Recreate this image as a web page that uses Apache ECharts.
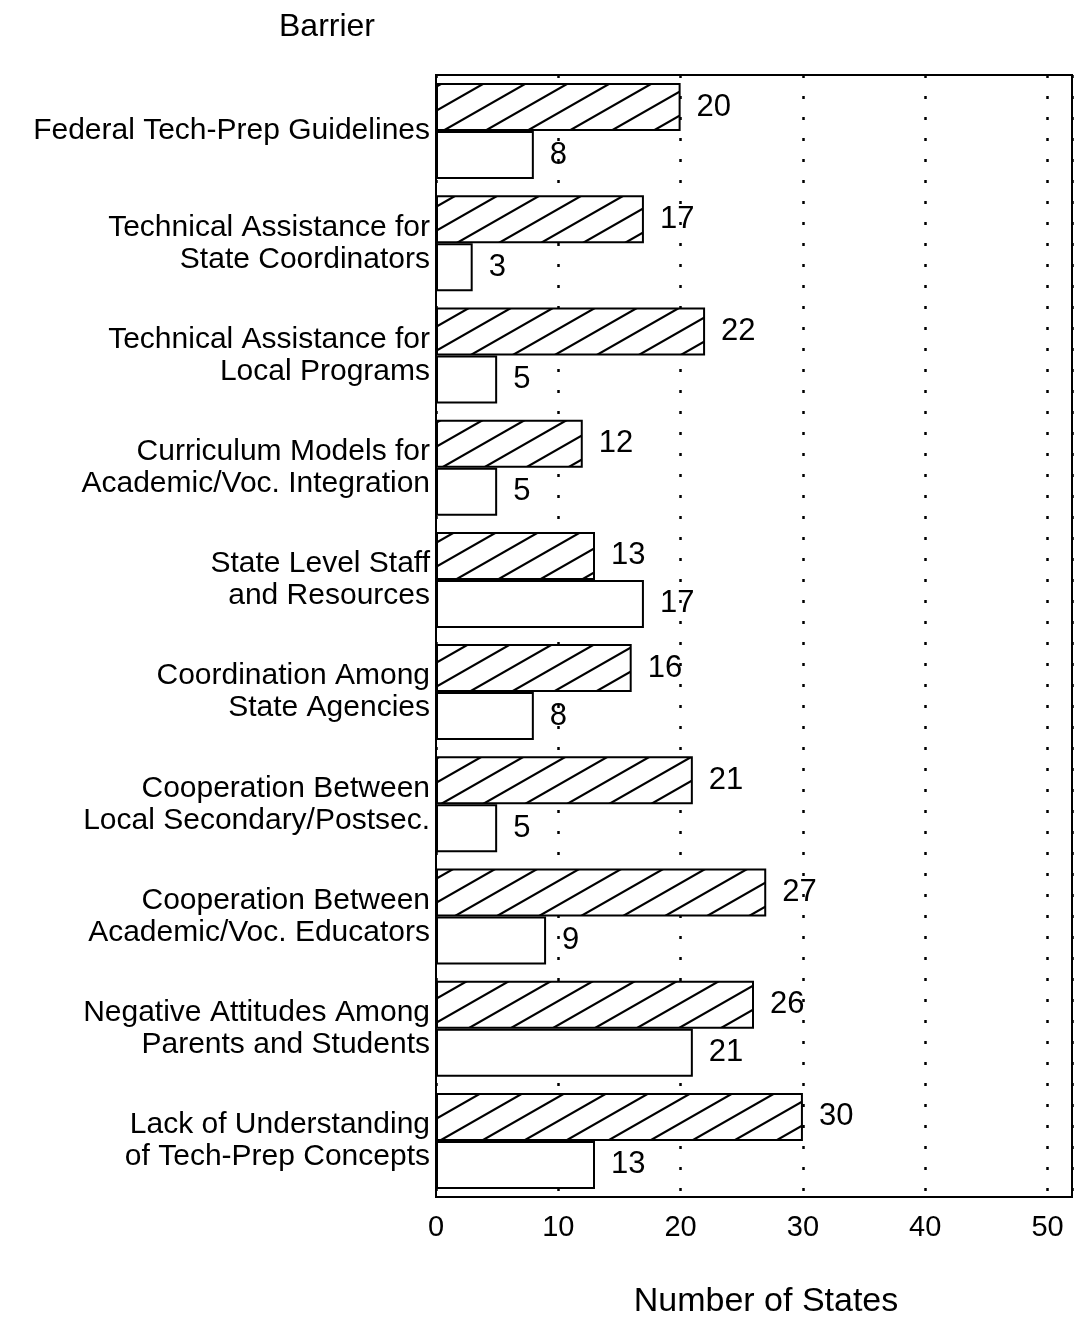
<!DOCTYPE html>
<html>
<head>
<meta charset="utf-8" />
<script src="https://cdn.jsdelivr.net/npm/echarts@6/dist/echarts.min.js"></script>
<style>
  html, body { margin: 0; padding: 0; background: #fff; }
  #chart { width: 1076px; height: 1324px; }
</style>
</head>
<body>
<div id="chart"></div>
<script>
const barriers = [
  "Federal Tech-Prep Guidelines",
  "Technical Assistance for\nState Coordinators",
  "Technical Assistance for\nLocal Programs",
  "Curriculum Models for\nAcademic/Voc. Integration",
  "State Level Staff\nand Resources",
  "Coordination Among\nState Agencies",
  "Cooperation Between\nLocal Secondary/Postsec.",
  "Cooperation Between\nAcademic/Voc. Educators",
  "Negative Attitudes Among\nParents and Students",
  "Lack of Understanding\nof Tech-Prep Concepts",
];
const hatchedValues = [20, 17, 22, 12, 13, 16, 21, 27, 26, 30];
const openValues = [8, 3, 5, 5, 17, 8, 5, 9, 21, 13];

const fontFamily = "'Liberation Sans', Arial, Helvetica, sans-serif";

// diagonal hatch tile, lines rising to the right
function makeHatch() {
  const w = 42, h = 24;
  const c = document.createElement("canvas");
  c.width = w;
  c.height = h;
  const ctx = c.getContext("2d");
  ctx.fillStyle = "#fff";
  ctx.fillRect(0, 0, w, h);
  ctx.strokeStyle = "#000";
  ctx.lineWidth = 2.2;
  for (let n = -1; n <= 2; n++) {
    ctx.beginPath();
    ctx.moveTo(-w, h * n + h);
    ctx.lineTo(2 * w, h * n - 2 * h);
    ctx.stroke();
  }
  return c;
}

const valueLabel = {
  show: true,
  position: "right",
  distance: 16,
  fontSize: 31,
  color: "#000",
  fontFamily,
};

const chart = echarts.init(document.getElementById("chart"));

chart.setOption({
  animation: false,
  textStyle: { fontFamily },
  title: {
    text: "Barrier",
    left: 274,
    top: 6,
    textStyle: { fontSize: 32, fontWeight: "normal", color: "#000", fontFamily },
  },
  grid: {
    left: 436,
    right: 4,
    top: 75,
    bottom: 122,
    show: true,
    borderColor: "#000",
    borderWidth: 2,
  },
  xAxis: {
    type: "value",
    min: 0,
    max: 52,
    interval: 10,
    name: "Number of States",
    nameLocation: "middle",
    nameGap: 88,
    nameTextStyle: {
      fontSize: 34,
      color: "#000",
      fontFamily,
      padding: [0, 0, 0, 24],
    },
    axisLine: { show: false },
    axisTick: { show: false },
    axisLabel: {
      fontSize: 29,
      color: "#000",
      margin: 16,
      showMaxLabel: false,
      fontFamily,
    },
    splitLine: {
      show: true,
      lineStyle: { color: "#000", width: 2.5, type: [3, 18] },
    },
  },
  yAxis: {
    type: "category",
    data: barriers,
    inverse: true,
    axisLine: { show: false },
    axisTick: { show: false },
    axisLabel: {
      fontSize: 30,
      lineHeight: 32,
      color: "#000",
      margin: 6,
      align: "right",
      fontFamily,
    },
  },
  series: [
    {
      name: "Hatched",
      type: "bar",
      data: hatchedValues,
      barWidth: 48,
      barGap: "0%",
      itemStyle: {
        color: { image: makeHatch(), repeat: "repeat" },
        borderColor: "#000",
        borderWidth: 2,
      },
      label: valueLabel,
    },
    {
      name: "Open",
      type: "bar",
      data: openValues,
      barWidth: 48,
      itemStyle: {
        color: "#fff",
        borderColor: "#000",
        borderWidth: 2,
      },
      label: valueLabel,
    },
  ],
});
</script>
</body>
</html>
